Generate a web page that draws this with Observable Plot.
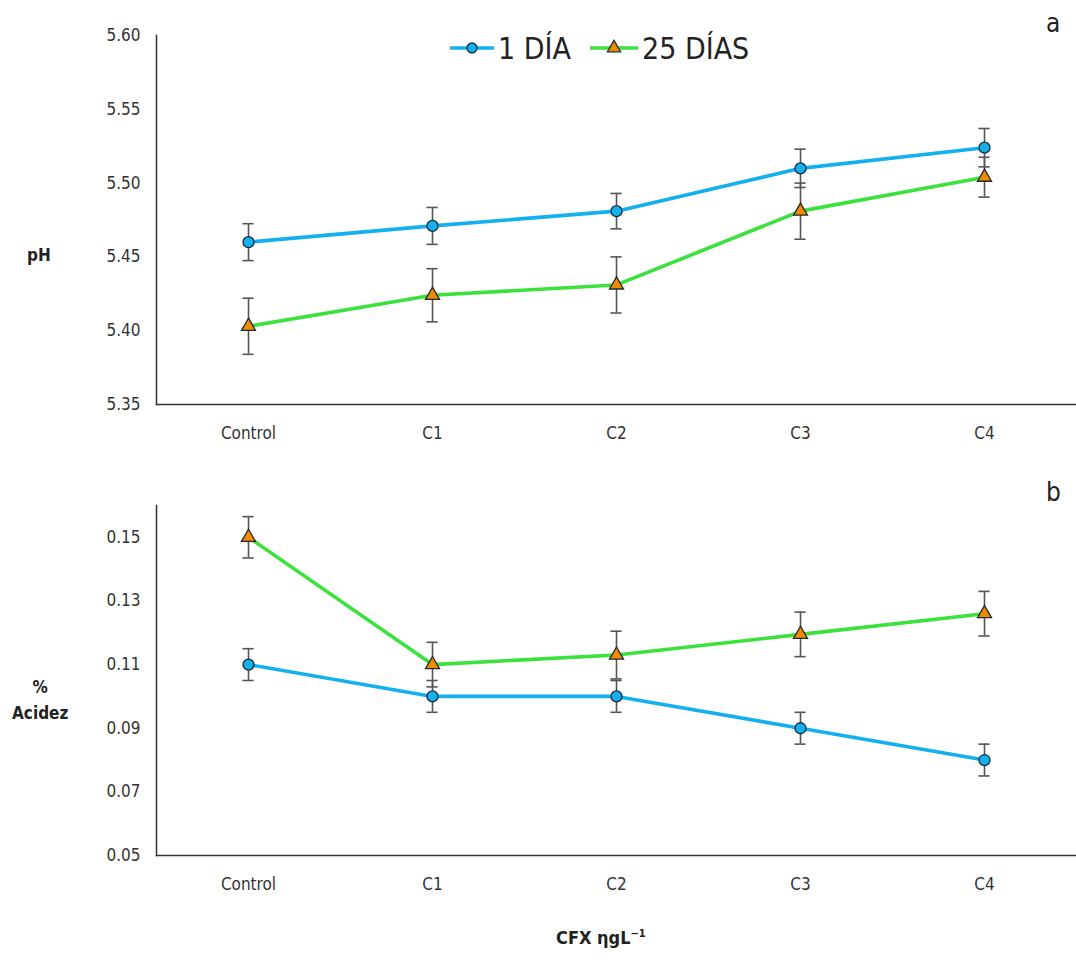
<!DOCTYPE html>
<html>
<head>
<meta charset="utf-8">
<script src="https://cdn.jsdelivr.net/npm/d3@7"></script>
<script src="https://cdn.jsdelivr.net/npm/@observablehq/plot@0.6"></script>
<style>
  html, body { margin: 0; padding: 0; background: #fff; }
  #wrap { position: relative; width: 1076px; height: 960px; overflow: hidden; font-family: "Liberation Sans Narrow", "DejaVu Sans Condensed", "Open Sans", sans-serif; color: #222; }
  .abs { position: absolute; white-space: nowrap; }
  .ylab { font-weight: bold; font-size: 17px; text-align: center; line-height: 26px; }
  .panel { font-size: 26px; }
  svg text { font-family: "Liberation Sans Narrow", "DejaVu Sans Condensed", sans-serif; }
</style>
</head>
<body>
<div id="wrap">
  <div id="p1" class="abs" style="left:0;top:0"></div>
  <div id="p2" class="abs" style="left:0;top:460px"></div>
  <div id="legend" class="abs" style="left:446px;top:24px"></div>
  <div class="abs panel" style="left:1046px;top:8px">a</div>
  <div class="abs panel" style="left:1046px;top:477px">b</div>
  <div class="abs ylab" style="left:27px;top:242px">pH</div>
  <div class="abs ylab" style="left:12px;top:674px">%<br>Acidez</div>
  <div class="abs" style="left:556px;top:927px;font-weight:bold;font-size:18px">CFX ηgL<sup style="font-size:11px">−1</sup></div>
</div>
<script>
const categories = ["Control", "C1", "C2", "C3", "C4"];
const seriesNames = ["1 DÍA", "25 DÍAS"];

const phDia1 = [5.460, 5.471, 5.481, 5.510, 5.524];
const phDia1Err = [0.0125, 0.0125, 0.012, 0.013, 0.013];
const phDia25 = [5.403, 5.424, 5.431, 5.481, 5.504];
const phDia25Err = [0.019, 0.018, 0.019, 0.019, 0.0135];

const acDia1 = [0.110, 0.100, 0.100, 0.090, 0.080];
const acDia1Err = [0.005, 0.005, 0.005, 0.005, 0.005];
const acDia25 = [0.150, 0.110, 0.113, 0.1195, 0.126];
const acDia25Err = [0.0065, 0.007, 0.0075, 0.007, 0.007];

const phTicks = [5.35, 5.40, 5.45, 5.50, 5.55, 5.60];
const acTicks = [0.05, 0.07, 0.09, 0.11, 0.13, 0.15];

const blue = "#12B0EE", green = "#3BE23B", orange = "#F08A00", markerStroke = "#1e2a33", errColor = "#555";

function rows(v1, e1, v2, e2) {
  const out = [];
  categories.forEach((c, i) => {
    out.push({cat: c, series: seriesNames[0], v: v1[i], lo: v1[i] - e1[i], hi: v1[i] + e1[i]});
  });
  categories.forEach((c, i) => {
    out.push({cat: c, series: seriesNames[1], v: v2[i], lo: v2[i] - e2[i], hi: v2[i] + e2[i]});
  });
  return out;
}

function panel(data, domain, ticks, height, marginTop) {
  const s1 = data.filter(d => d.series === seriesNames[0]);
  const s2 = data.filter(d => d.series === seriesNames[1]);
  return Plot.plot({
    width: 1076,
    height,
    marginLeft: 156,
    marginRight: 0,
    marginTop,
    marginBottom: 56,
    style: {fontSize: "17px", color: "#333", background: "transparent"},
    x: {type: "band", domain: categories, padding: 0, label: null},
    y: {domain, label: null},
    marks: [
      Plot.axisY({ticks, tickFormat: d3.format(".2f"), tickSize: 0, tickPadding: 16, label: null, fontSize: 17}),
      Plot.axisX({tickSize: 0, tickPadding: 22, label: null, fontSize: 17}),
      Plot.frame({anchor: "left", stroke: "#333", strokeWidth: 1.5}),
      Plot.frame({anchor: "bottom", stroke: "#333", strokeWidth: 1.5}),
      Plot.line(s1, {x: "cat", y: "v", stroke: blue, strokeWidth: 3.6}),
      Plot.line(s2, {x: "cat", y: "v", stroke: green, strokeWidth: 3.6}),
      Plot.ruleX(data, {x: "cat", y1: "lo", y2: "hi", stroke: errColor, strokeWidth: 1.6}),
      Plot.tickY(data, {x: "cat", y: "lo", stroke: errColor, strokeWidth: 1.6, insetLeft: 86.4, insetRight: 86.4}),
      Plot.tickY(data, {x: "cat", y: "hi", stroke: errColor, strokeWidth: 1.6, insetLeft: 86.4, insetRight: 86.4}),
      Plot.dot(s1, {x: "cat", y: "v", symbol: "circle", r: 5.5, fill: blue, stroke: markerStroke, strokeWidth: 1.3}),
      Plot.dot(s2, {x: "cat", y: "v", symbol: "triangle", r: 5.2, fill: orange, stroke: markerStroke, strokeWidth: 1.3})
    ]
  });
}

document.getElementById("p1").appendChild(
  panel(rows(phDia1, phDia1Err, phDia25, phDia25Err), [5.35, 5.60], phTicks, 460, 35)
);
document.getElementById("p2").appendChild(
  panel(rows(acDia1, acDia1Err, acDia25, acDia25Err), [0.05, 0.16], acTicks, 451, 45)
);

// legend
const lg = d3.create("svg").attr("width", 320).attr("height", 46)
  .style("font-family", "'Liberation Sans Narrow', 'DejaVu Sans Condensed', sans-serif");
lg.append("line").attr("x1", 4).attr("x2", 48).attr("y1", 24).attr("y2", 24).attr("stroke", blue).attr("stroke-width", 3.6);
lg.append("circle").attr("cx", 26).attr("cy", 24).attr("r", 5).attr("fill", blue).attr("stroke", markerStroke).attr("stroke-width", 1.3);
lg.append("text").attr("x", 52).attr("y", 35).attr("font-size", 30).attr("fill", "#222").text(seriesNames[0]);
lg.append("line").attr("x1", 144).attr("x2", 192).attr("y1", 24).attr("y2", 24).attr("stroke", green).attr("stroke-width", 3.6);
lg.append("path").attr("d", d3.symbol(d3.symbolTriangle, 75)()).attr("transform", "translate(168,24)")
  .attr("fill", orange).attr("stroke", markerStroke).attr("stroke-width", 1.3);
lg.append("text").attr("x", 196).attr("y", 35).attr("font-size", 30).attr("fill", "#222").text(seriesNames[1]);
document.getElementById("legend").appendChild(lg.node());
</script>
</body>
</html>
